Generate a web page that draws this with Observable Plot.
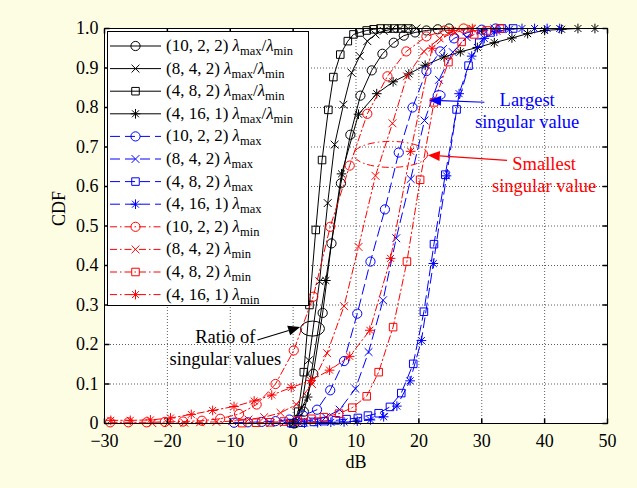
<!DOCTYPE html>
<html>
<head>
<meta charset="utf-8">
<script src="https://cdn.jsdelivr.net/npm/d3@7"></script>
<script src="https://cdn.jsdelivr.net/npm/@observablehq/plot@0.6"></script>
<style>
  html, body { margin: 0; padding: 0; background: #fdfde4; }
  #chart { width: 637px; height: 488px; }
</style>
</head>
<body>
<div id="chart"></div>
<script>
// ---- CDF samples, [dB, CDF] at each plotted marker ----
// ratio of singular values lambda_max / lambda_min
const ratio1022 = [[0.2,0],[1.7,0.03],[3.2,0.126],[4.7,0.28],[6.1,0.456],[7.6,0.608],[9.1,0.731],[10.7,0.83],[12.5,0.894],[14.2,0.936],[16.0,0.964],[17.6,0.982],[19.4,0.99],[21.2,0.995],[23.0,0.998],[24.8,1]];
const ratio842 = [[0.1,0],[1.3,0.04],[2.5,0.16],[4.2,0.36],[5.5,0.558],[6.6,0.706],[8.0,0.807],[9.3,0.888],[10.6,0.93],[11.8,0.968],[13.1,0.985],[14.4,0.994],[15.7,0.998],[17.0,1],[18.3,1],[19.6,1]];
const ratio482 = [[0,0],[0.8,0.03],[1.7,0.13],[2.6,0.3],[3.6,0.49],[4.6,0.667],[5.6,0.794],[6.4,0.877],[7.5,0.934],[8.7,0.968],[9.6,0.985],[10.6,0.99],[11.7,0.995],[12.8,0.998],[13.9,1],[15.0,1],[16.1,1],[17.2,1],[18.3,1]];
const ratio4161 = [[0,0],[2.3,0.067],[5.2,0.362],[7.7,0.632],[10.4,0.783],[13.3,0.835],[15.9,0.865],[18.4,0.885],[21.0,0.907],[24.0,0.928],[26.6,0.941],[29.3,0.952],[32.0,0.964],[34.8,0.976],[37.3,0.987],[40.0,0.995],[42.7,0.998],[45.3,1],[48.0,1]];
// largest singular value lambda_max
const max1022 = [[-9.4,0.002],[-7.2,0.003],[-5.0,0.004],[-2.8,0.006],[-0.6,0.01],[1.6,0.02],[3.8,0.035],[5.9,0.084],[8.1,0.158],[10.2,0.278],[12.3,0.41],[14.6,0.542],[16.8,0.686],[19.0,0.8],[21.2,0.892],[23.4,0.942],[25.6,0.975],[27.8,0.99],[30.0,0.997],[32.2,1]];
const max842 = [[-3.6,0.001],[-1.4,0.002],[0.8,0.004],[3.0,0.008],[5.2,0.016],[7.4,0.035],[9.9,0.088],[12.0,0.181],[14.3,0.312],[16.4,0.469],[18.7,0.619],[20.9,0.767],[23.2,0.87],[25.4,0.94],[27.6,0.978],[29.8,0.993],[32.0,1]];
const max482 = [[-0.3,0.001],[1.5,0.002],[3.3,0.004],[5.0,0.006],[6.8,0.008],[8.5,0.011],[10.3,0.014],[11.9,0.02],[13.6,0.026],[15.4,0.042],[17.2,0.077],[19.1,0.151],[20.8,0.283],[22.4,0.454],[24.2,0.63],[26.0,0.795],[27.9,0.906],[29.6,0.964],[31.4,0.99],[33.2,1],[35.0,1]];
const max4161 = [[1.8,0.001],[3.9,0.002],[6.0,0.003],[8.1,0.004],[10.2,0.006],[12.3,0.009],[14.4,0.017],[16.5,0.044],[18.6,0.108],[20.4,0.21],[22.3,0.405],[24.4,0.627],[26.4,0.835],[28.4,0.93],[30.4,0.975],[32.4,0.993],[34.4,0.998],[36.4,1],[38.4,1],[40.4,1],[42.4,1]];
// smallest singular value lambda_min
const min1022 = [[-29.1,0.003],[-26.2,0.003],[-23.3,0.003],[-20.4,0.004],[-17.5,0.005],[-14.5,0.007],[-11.6,0.012],[-8.6,0.024],[-5.8,0.048],[-2.8,0.1],[0.1,0.185],[3.2,0.321],[5.9,0.498],[9.0,0.653],[11.8,0.784],[15.0,0.879],[18.0,0.942],[21.2,0.98],[24.1,0.995],[27.1,1]];
const min842 = [[-22.4,0.001],[-19.9,0.001],[-17.3,0.002],[-14.8,0.003],[-12.2,0.004],[-9.7,0.006],[-7.1,0.01],[-4.6,0.016],[-2.0,0.027],[0.5,0.048],[3.0,0.1],[5.4,0.178],[8.1,0.297],[10.4,0.447],[13.1,0.627],[15.8,0.76],[18.1,0.879],[20.8,0.942],[23.3,0.975],[25.8,0.99],[28.3,1]];
const min482 = [[-8.1,0.001],[-5.9,0.002],[-3.7,0.003],[-1.5,0.005],[0.7,0.008],[2.9,0.012],[4.9,0.016],[7.3,0.025],[9.4,0.04],[11.7,0.069],[13.6,0.13],[15.9,0.244],[18.1,0.41],[20.2,0.617],[22.4,0.813],[24.7,0.915],[26.8,0.966],[28.8,0.985],[30.8,0.995],[32.9,1]];
const min4161 = [[-29.0,0.008],[-25.9,0.008],[-22.7,0.009],[-19.5,0.014],[-16.2,0.023],[-12.8,0.033],[-9.4,0.043],[-6.2,0.057],[-3.4,0.072],[-0.3,0.091],[2.8,0.109],[5.8,0.135],[9.0,0.17],[12.2,0.236],[15.5,0.418],[18.7,0.689],[22.1,0.95],[25.3,0.995],[28.5,1]];

// axis ticks
const xTicks = [-30, -20, -10, 0, 10, 20, 30, 40, 50];
const yTicks = [0, 0.1, 0.2, 0.3, 0.4, 0.5, 0.6, 0.7, 0.8, 0.9, 1.0];

// legend entries: antenna configuration and quantity
const configs = ["(10, 2, 2)", "(8, 4, 2)", "(4, 8, 2)", "(4, 16, 1)"];
const quantities = ["ratio", "max", "min"];

// ---- marker shapes ----
const rad = size => Math.sqrt(size / Math.PI);
const symCircle = {draw(c, s) { const r = rad(s); c.moveTo(r, 0); c.arc(0, 0, r, 0, 2 * Math.PI); }};
const symTimes = {draw(c, s) { const r = rad(s) * 0.85; c.moveTo(-r, -r); c.lineTo(r, r); c.moveTo(-r, r); c.lineTo(r, -r); }};
const symSquare = {draw(c, s) { const r = rad(s) * 0.82; c.rect(-r, -r, 2 * r, 2 * r); }};
const symStar = {draw(c, s) { const r = rad(s) * 1.05, d = r * 0.72;
  c.moveTo(-r, 0); c.lineTo(r, 0); c.moveTo(0, -r); c.lineTo(0, r);
  c.moveTo(-d, -d); c.lineTo(d, d); c.moveTo(-d, d); c.lineTo(d, -d); }};
const symbols = [symCircle, symTimes, symSquare, symStar];

// inward tick marks
const TL = 5;
const tickUp = {draw(c) { c.moveTo(0, 0); c.lineTo(0, -TL); }};
const tickDown = {draw(c) { c.moveTo(0, 0); c.lineTo(0, TL); }};
const tickRight = {draw(c) { c.moveTo(0, 0); c.lineTo(TL, 0); }};
const tickLeft = {draw(c) { c.moveTo(0, 0); c.lineTo(-TL, 0); }};

const styles = {
  ratio: {color: "#000000", dash: null},
  max: {color: "#0000ff", dash: "10,5"},
  min: {color: "#ff0000", dash: "7,3,1.5,3"}
};
const seriesData = {
  ratio: [ratio1022, ratio842, ratio482, ratio4161],
  max: [max1022, max842, max482, max4161],
  min: [min1022, min842, min482, min4161]
};
const series = [];
for (const q of quantities) configs.forEach((cfg, i) => {
  series.push({cfg, q, data: seriesData[q][i], sym: symbols[i], ...styles[q]});
});

const FONT = "Liberation Serif, Times New Roman, serif";
const MR = 4.6; // marker radius

const marks = [
  Plot.frame({fill: "white", stroke: "none"}),
  Plot.ruleX(xTicks.slice(1, -1), {stroke: "#333", strokeWidth: 0.8, strokeDasharray: "1,2"}),
  Plot.ruleY(yTicks.slice(1, -1), {stroke: "#333", strokeWidth: 0.8, strokeDasharray: "1,2"})
];
for (const s of series) {
  marks.push(Plot.line(s.data, {x: d => d[0], y: d => d[1], stroke: s.color, strokeWidth: 1,
    strokeDasharray: s.dash || undefined}));
  marks.push(Plot.dot(s.data, {x: d => d[0], y: d => d[1], symbol: s.sym, r: MR,
    stroke: s.color, fill: "none", strokeWidth: 1}));
}
marks.push(
  Plot.frame({stroke: "black", strokeWidth: 1}),
  Plot.dot(xTicks, {x: d => d, y: 0, symbol: tickUp, stroke: "black", fill: "none"}),
  Plot.dot(xTicks, {x: d => d, y: 1, symbol: tickDown, stroke: "black", fill: "none"}),
  Plot.dot(yTicks, {x: -30, y: d => d, symbol: tickRight, stroke: "black", fill: "none"}),
  Plot.dot(yTicks, {x: 50, y: d => d, symbol: tickLeft, stroke: "black", fill: "none"}),
  Plot.text(xTicks, {x: d => d, y: 0, dy: 18, text: d => d < 0 ? "\u2212" + Math.abs(d) : String(d),
    fontSize: 18, fill: "black"}),
  Plot.text(yTicks, {x: -30, y: d => d, dx: -6, textAnchor: "end", text: d => d === 0 ? "0" : d.toFixed(1),
    fontSize: 18, fill: "black"}),
  Plot.text(["dB"], {frameAnchor: "bottom", dy: 44, text: d => d, fontSize: 18, fill: "black"}),
  Plot.text(["CDF"], {frameAnchor: "left", dx: -45, rotate: -90, text: d => d, fontSize: 18, fill: "black"})
);

const chart = Plot.plot({
  width: 637,
  height: 488,
  marginLeft: 104,
  marginRight: 30,
  marginTop: 28,
  marginBottom: 65,
  style: {background: "#fdfde4", fontFamily: FONT, overflow: "visible"},
  x: {domain: [-30, 50], axis: null},
  y: {domain: [0, 1], axis: null},
  marks
});
document.getElementById("chart").appendChild(chart);

// ---- legend and annotations drawn on top of the plot ----
const sx = chart.scale("x"), sy = chart.scale("y");
const X = d3.scaleLinear(sx.domain, sx.range);
const Y = d3.scaleLinear(sy.domain, sy.range);
const svg = d3.select(chart);

const lg = svg.append("g").attr("font-family", FONT).attr("font-size", 17).attr("text-anchor", "start");
lg.append("rect").attr("x", 107.5).attr("y", 31.5).attr("width", 201).attr("height", 274)
  .attr("fill", "white").attr("stroke", "black");
series.forEach((s, i) => {
  const cy = 46 + i * 22.6;
  lg.append("line").attr("x1", 110).attr("x2", 161).attr("y1", cy).attr("y2", cy)
    .attr("stroke", s.color).attr("stroke-dasharray", s.dash);
  const p = d3.path(); s.sym.draw(p, MR * MR * Math.PI);
  lg.append("path").attr("transform", `translate(135.5,${cy})`).attr("d", p.toString())
    .attr("fill", "none").attr("stroke", s.color);
  const t = lg.append("text").attr("x", 166).attr("y", cy + 5).attr("fill", "black");
  t.append("tspan").text(s.cfg + " ");
  t.append("tspan").attr("font-style", "italic").text("\u03bb");
  if (s.q === "ratio") {
    t.append("tspan").attr("font-size", 12.5).attr("dy", 4).text("max");
    t.append("tspan").attr("dy", -4).text("/");
    t.append("tspan").attr("font-style", "italic").text("\u03bb");
    t.append("tspan").attr("font-size", 12.5).attr("dy", 4).text("min");
  } else {
    t.append("tspan").attr("font-size", 12.5).attr("dy", 4).text(s.q);
  }
});

// annotation callouts, positions in (dB, CDF)
const notes = [
  {color: "#000000", lines: ["Ratio of", "singular values"], text: [-10.7, 0.218], tail: [-5.6, 0.21], tip: [1.2, 0.243],
   ring: [3.16, 0.239], rx: 12, ry: 7.5, ringDash: null},
  {color: "#0000ff", lines: ["Largest", "singular value"], text: [37.3, 0.817], tail: [30.5, 0.812], tip: [21.7, 0.817],
   ring: [23.3, 0.83], rx: 6, ry: 4.5, ringDash: null},
  {color: "#ff0000", lines: ["Smallest", "singular value"], text: [40.0, 0.655], tail: [34.1, 0.665], tip: [21.5, 0.678],
   ring: [15.6, 0.68], rx: 37, ry: 13, ringDash: "7,3,1.5,3"}
];
const an = svg.append("g").attr("font-family", FONT).attr("font-size", 18.5);
for (const n of notes) {
  const tx = X(n.text[0]), ty = Y(n.text[1]);
  n.lines.forEach((l, k) => an.append("text").attr("x", tx).attr("y", ty + k * 22 + 6)
    .attr("text-anchor", "middle").attr("fill", n.color).text(l));
  an.append("ellipse").attr("cx", X(n.ring[0])).attr("cy", Y(n.ring[1])).attr("rx", n.rx).attr("ry", n.ry)
    .attr("fill", "none").attr("stroke", n.color).attr("stroke-dasharray", n.ringDash);
  const x1 = X(n.tail[0]), y1 = Y(n.tail[1]), x2 = X(n.tip[0]), y2 = Y(n.tip[1]);
  const a = Math.atan2(y2 - y1, x2 - x1), L = 12, W = 5;
  const bx = x2 - L * Math.cos(a), by = y2 - L * Math.sin(a);
  an.append("line").attr("x1", x1).attr("y1", y1).attr("x2", bx).attr("y2", by)
    .attr("stroke", n.color).attr("stroke-width", 1.2);
  an.append("path").attr("d", `M${x2},${y2}L${bx + W * Math.sin(a)},${by - W * Math.cos(a)}L${bx - W * Math.sin(a)},${by + W * Math.cos(a)}Z`)
    .attr("fill", n.color);
}
</script>
</body>
</html>
